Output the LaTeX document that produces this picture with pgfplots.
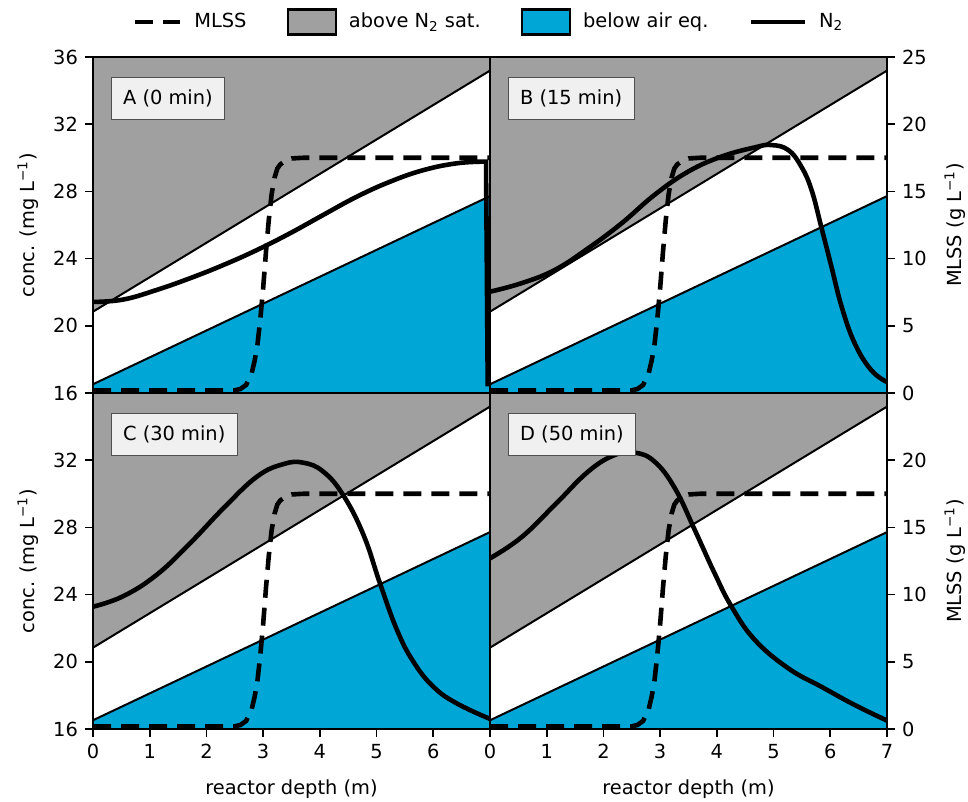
\documentclass[border=0pt]{standalone}
\usepackage{pgfplots}
\usepackage{pgfplotstable}
\pgfplotsset{compat=1.18}
\usepackage{fontspec}
\setmainfont{DejaVu Sans}
\definecolor{satgray}{HTML}{A0A0A0}
\definecolor{airblue}{HTML}{00A6D6}
\definecolor{boxfill}{HTML}{F0F0F0}
\definecolor{boxdraw}{HTML}{505050}

\pgfplotstableread{
d m
0 0.2
2.5 0.2
2.6 0.3
2.7 0.6
2.8 1.5
2.85 2.4
2.9 3.6
2.95 5.5
3.0 7.8
3.05 10.5
3.1 12.9
3.15 14.8
3.2 16.0
3.25 16.7
3.3 17.0
3.4 17.3
3.5 17.45
3.7 17.5
7 17.5
}\mlss

\pgfplotstableread{
d c
0 21.42
0.53 21.56
1.12 22.13
1.71 22.83
2.30 23.62
2.89 24.51
3.47 25.5
4.06 26.6
4.65 27.68
5.24 28.58
5.83 29.27
6.41 29.67
6.88 29.77
}\nA

\pgfplotstableread{
d c
0 22.03
0.55 22.53
1.14 23.32
1.73 24.61
2.32 26.1
2.90 27.79
3.49 29.17
4.08 30.07
4.67 30.62
4.96 30.76
5.26 30.46
5.49 29.47
5.67 28.08
5.84 25.9
6.02 23.52
6.20 21.14
6.43 18.96
6.72 17.37
7.0 16.65
}\nB

\pgfplotstableread{
d c
0 23.28
0.53 23.9
1.12 25.17
1.71 27.05
2.30 29.14
2.89 31.02
3.36 31.77
3.71 31.85
4.06 31.32
4.41 29.93
4.77 27.55
5.06 24.67
5.36 21.89
5.65 20.0
6.0 18.52
6.41 17.53
7.0 16.6
}\nC

\pgfplotstableread{
d c
0 26.16
0.55 27.4
1.14 29.33
1.73 31.32
2.20 32.31
2.55 32.45
2.90 31.92
3.26 30.33
3.61 27.85
3.96 25.27
4.26 23.28
4.67 21.3
5.26 19.61
5.84 18.52
6.43 17.43
7.0 16.5
}\nD

\newcommand{\fs}{\fontsize{9.7}{11.6}\selectfont}

\tikzset{
  lab/.style={draw=boxdraw, fill=boxfill, line width=0.6pt, anchor=north west,
    minimum height=21pt, inner xsep=6pt, font=\fs},
  n2/.style={black, line width=2.3pt, smooth, tension=0.7},
  ml/.style={black, line width=2.3pt, dash pattern=on 9pt off 5pt},
}
\pgfplotsset{
  base/.style={scale only axis, width=198.5pt, height=168pt, xmin=0, xmax=7,
    anchor=south west, font=\fs,
    axis line style={line width=1pt},
    tick style={line width=0.8pt, black}, tick align=outside,
    major tick length=4pt,
    /pgf/number format/assume math mode=true,
    ticklabel style={font=\fs}},
  conc/.style={base, ymin=16, ymax=36, axis on top},
  mlss/.style={base, ymin=0, ymax=25},
  over/.style={base, ymin=16, ymax=36, hide axis},
}

\newcommand{\panelbg}{%
  \addplot[fill=satgray, draw=none, forget plot] coordinates {(0,20.84) (7,35.19) (7,36) (0,36) (0,20.84)};
  \addplot[fill=airblue, draw=none, forget plot] coordinates {(0,16) (0,16.52) (7,27.72) (7,16) (0,16)};
  \addplot[black, line width=1pt, forget plot] coordinates {(0,20.84) (7,35.19)};
  \addplot[black, line width=1pt, forget plot] coordinates {(0,16.52) (7,27.72)};
}

\begin{document}
\begin{tikzpicture}
\useasboundingbox (0,0) rectangle (484pt,401pt);

% ---------- Panel A ----------
\begin{axis}[conc, at={(46.5pt,204.5pt)}, xtick=\empty, ytick={16,20,...,36}, ytick pos=left,
  legend style={at={(1.0,1.104)}, anchor=center, draw=none, fill=none, font=\fs,
    legend columns=4,
    /tikz/every odd column/.append style={column sep=4pt},
    /tikz/every even column/.append style={column sep=18pt}}]
\panelbg
\addlegendimage{legend image code/.code={\draw[black, line width=2.3pt, dash pattern=on 9pt off 5pt] (0pt,0pt) -- (22.5pt,0pt);}}
\addlegendentry{MLSS}
\addlegendimage{legend image code/.code={\draw[fill=satgray, draw=black, line width=1.2pt] (0pt,-6.2pt) rectangle (24pt,6.2pt);}}
\addlegendentry{above N\textsubscript{2} sat.}
\addlegendimage{legend image code/.code={\draw[fill=airblue, draw=black, line width=1.2pt] (0pt,-6.2pt) rectangle (24pt,6.2pt);}}
\addlegendentry{below air eq.}
\addlegendimage{legend image code/.code={\draw[black, line width=2.3pt] (0pt,0pt) -- (27pt,0pt);}}
\addlegendentry{N\textsubscript{2}}
\end{axis}
\begin{axis}[mlss, at={(46.5pt,204.5pt)}, hide axis]
\addplot[ml] table[x=d, y=m] {\mlss};
\end{axis}
\begin{axis}[over, at={(46.5pt,204.5pt)}]
\addplot[n2] table[x=d, y=c] {\nA};
\addplot[black, line width=2.3pt] coordinates {(6.88,29.77) (6.93,29.77) (6.96,16.4)};
\node[lab] at (rel axis cs:0,1) [xshift=8.75pt, yshift=-10pt] {A (0 min)};
\end{axis}

% ---------- Panel B ----------
\begin{axis}[conc, at={(245pt,204.5pt)}, xtick=\empty, ytick=\empty]
\panelbg
\end{axis}
\begin{axis}[mlss, at={(245pt,204.5pt)}, axis x line=none, axis y line*=right, ytick={0,5,...,25}]
\addplot[ml] table[x=d, y=m] {\mlss};
\end{axis}
\begin{axis}[over, at={(245pt,204.5pt)}]
\addplot[n2] table[x=d, y=c] {\nB};
\node[lab] at (rel axis cs:0,1) [xshift=8.75pt, yshift=-10pt] {B (15 min)};
\end{axis}

% ---------- Panel C ----------
\begin{axis}[conc, at={(46.5pt,36.5pt)}, xtick={0,...,6}, ytick={16,20,...,32}, tick pos=left]
\panelbg
\end{axis}
\begin{axis}[mlss, at={(46.5pt,36.5pt)}, hide axis]
\addplot[ml] table[x=d, y=m] {\mlss};
\end{axis}
\begin{axis}[over, at={(46.5pt,36.5pt)}]
\addplot[n2] table[x=d, y=c] {\nC};
\node[lab] at (rel axis cs:0,1) [xshift=8.75pt, yshift=-10pt] {C (30 min)};
\end{axis}

% ---------- Panel D ----------
\begin{axis}[conc, at={(245pt,36.5pt)}, xtick={0,...,7}, ytick=\empty, tick pos=left]
\panelbg
\end{axis}
\begin{axis}[mlss, at={(245pt,36.5pt)}, axis x line=none, axis y line*=right, ytick={0,5,...,20}]
\addplot[ml] table[x=d, y=m] {\mlss};
\end{axis}
\begin{axis}[over, at={(245pt,36.5pt)}]
\addplot[n2] table[x=d, y=c] {\nD};
\node[lab] at (rel axis cs:0,1) [xshift=8.75pt, yshift=-10pt] {D (50 min)};
\end{axis}

% ---------- axis titles ----------
\node[rotate=90, font=\fs] at (14pt,288.5pt) {conc. (mg L\textsuperscript{−1})};
\node[rotate=90, font=\fs] at (14pt,120.5pt) {conc. (mg L\textsuperscript{−1})};
\node[rotate=90, font=\fs] at (477.5pt,288.5pt) {MLSS (g L\textsuperscript{−1})};
\node[rotate=90, font=\fs] at (477.5pt,120.5pt) {MLSS (g L\textsuperscript{−1})};
\node[font=\fs] at (145.75pt,6.5pt) {reactor depth (m)};
\node[font=\fs] at (344.25pt,6.5pt) {reactor depth (m)};
\end{tikzpicture}
\end{document}
